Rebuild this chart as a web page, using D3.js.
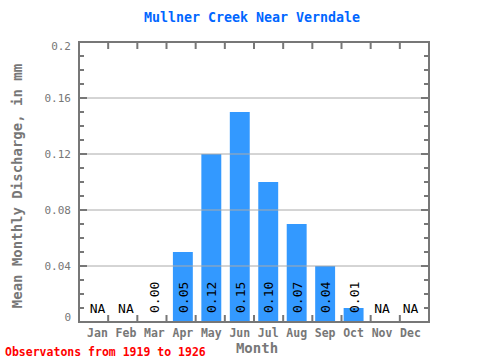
<!DOCTYPE html>
<html>
<head>
<meta charset="utf-8">
<script src="https://cdn.jsdelivr.net/npm/d3@7"></script>
<style>
body { margin: 0; background: #fff; }
text { font-family: "DejaVu Sans Mono", monospace; }
</style>
</head>
<body>
<svg id="chart" width="480" height="360"></svg>
<script>
var months = ['Jan','Feb','Mar','Apr','May','Jun','Jul','Aug','Sep','Oct','Nov','Dec'];
var discharge = [null, null, 0.00, 0.05, 0.12, 0.15, 0.10, 0.07, 0.04, 0.01, null, null];
var yTicks = [0, 0.04, 0.08, 0.12, 0.16, 0.2];
var yTickLabels = ['0', '0.04', '0.08', '0.12', '0.16', '0.2'];

var margin = {top: 42, right: 51, bottom: 38, left: 79};
var width = 480 - margin.left - margin.right,
    height = 360 - margin.top - margin.bottom;

var svg = d3.select('#chart');
var g = svg.append('g')
    .attr('transform', 'translate(' + margin.left + ',' + margin.top + ')');

var x = d3.scaleBand().domain(months).range([0, width]).padding(0.3);
var y = d3.scaleLinear().domain([0, 0.2]).range([height, 0]);
var grey = '#777';

// bars
g.selectAll('.bar')
    .data(months.map(function(m, i) { return {key: m, value: discharge[i]}; }))
    .enter().append('rect')
    .attr('x', function(d) { return x(d.key); })
    .attr('width', x.bandwidth())
    .attr('y', function(d) { return y(d.value || 0); })
    .attr('height', function(d) { return height - y(d.value || 0); })
    .attr('fill', '#3399ff');

// grid lines over bars
g.selectAll('.grid')
    .data(yTicks.slice(1, -1))
    .enter().append('line')
    .attr('x1', 0).attr('x2', width)
    .attr('y1', function(d) { return y(d); })
    .attr('y2', function(d) { return y(d); })
    .attr('stroke', '#aaa').attr('stroke-width', 1);

// minor ticks on left and right
var minor = d3.range(1, 20).map(function(i) { return i / 100; });
minor.forEach(function(v) {
    var len = yTicks.some(function(t) { return Math.abs(t - v) < 1e-9; }) ? 8 : 5;
    g.append('line').attr('x1', 0).attr('x2', len)
        .attr('y1', y(v)).attr('y2', y(v)).attr('stroke', grey).attr('stroke-width', 2);
    g.append('line').attr('x1', width).attr('x2', width - len)
        .attr('y1', y(v)).attr('y2', y(v)).attr('stroke', grey).attr('stroke-width', 2);
});

// month boundary ticks top and bottom
var step = width / months.length;
d3.range(1, months.length).forEach(function(i) {
    g.append('line').attr('x1', i * step).attr('x2', i * step)
        .attr('y1', 0).attr('y2', 7).attr('stroke', grey).attr('stroke-width', 2);
    g.append('line').attr('x1', i * step).attr('x2', i * step)
        .attr('y1', height).attr('y2', height - 7).attr('stroke', grey).attr('stroke-width', 2);
});

// frame
g.append('rect').attr('width', width).attr('height', height)
    .attr('fill', 'none').attr('stroke', grey).attr('stroke-width', 2);

// y tick labels (end labels nudged inside the frame)
g.selectAll('.ylab')
    .data(yTicks)
    .enter().append('text')
    .attr('x', -8)
    .attr('y', function(d, i) {
        var nudge = i === 0 ? -5 : (i === yTicks.length - 1 ? 4 : 0);
        return y(d) + nudge;
    })
    .attr('dy', '0.35em')
    .attr('text-anchor', 'end')
    .attr('fill', grey)
    .style('font-size', '11px')
    .text(function(d, i) { return yTickLabels[i]; });

// month labels
g.selectAll('.xlab')
    .data(months)
    .enter().append('text')
    .attr('x', function(d) { return x(d) + x.bandwidth() / 2; })
    .attr('y', height + 15)
    .attr('text-anchor', 'middle')
    .attr('fill', grey)
    .style('font-size', '11.5px')
    .style('font-weight', 'bold')
    .text(function(d) { return d; });

// value labels
months.forEach(function(m, i) {
    var cx = x(m) + x.bandwidth() / 2;
    if (discharge[i] === null) {
        g.append('text').attr('x', cx).attr('y', height - 9)
            .attr('text-anchor', 'middle').attr('fill', '#000')
            .style('font-size', '13px').text('NA');
    } else {
        g.append('text')
            .attr('transform', 'translate(' + (cx + 5) + ',' + (height - 9) + ') rotate(-90)')
            .attr('text-anchor', 'start').attr('fill', '#000')
            .style('font-size', '13px').text(discharge[i].toFixed(2));
    }
});

// title
svg.append('text').attr('x', margin.left + width / 2 - 2).attr('y', 22)
    .attr('text-anchor', 'middle').attr('fill', '#0066ff')
    .style('font-size', '13.3px').style('font-weight', 'bold')
    .text('Mullner Creek Near Verndale');

// axis titles
svg.append('text').attr('x', margin.left + width / 2 + 3).attr('y', 353)
    .attr('text-anchor', 'middle').attr('fill', grey)
    .style('font-size', '14px').style('font-weight', 'bold')
    .text('Month');

svg.append('text')
    .attr('transform', 'translate(22,' + (margin.top + height / 2 + 4) + ') rotate(-90)')
    .attr('text-anchor', 'middle').attr('fill', grey)
    .style('font-size', '14px').style('font-weight', 'bold')
    .text('Mean Monthly Discharge, in mm');

svg.append('text').attr('x', 5).attr('y', 356)
    .attr('fill', '#ff0000')
    .style('font-size', '11.5px').style('font-weight', 'bold')
    .text('Observatons from 1919 to 1926');
</script>
</body>
</html>
